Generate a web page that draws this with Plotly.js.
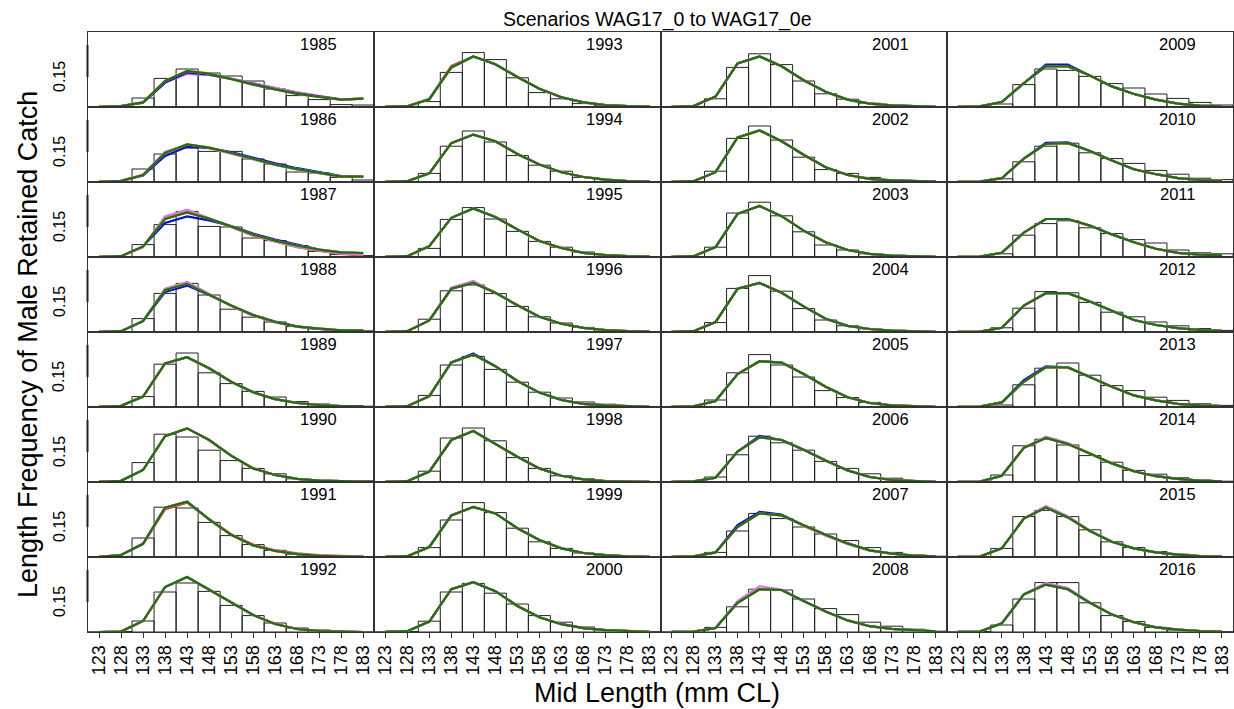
<!DOCTYPE html>
<html>
<head>
<meta charset="utf-8">
<script src="https://cdn.plot.ly/plotly-3.0.1.min.js"></script>
<style>html,body{margin:0;padding:0;background:#fff;}#chart{width:1234px;height:709px;}</style>
</head>
<body>
<div id="chart"></div>
<script>
// ---- data ----
const years = [1985,1986,1987,1988,1989,1990,1991,1992,1993,1994,1995,1996,1997,1998,1999,2000,
               2001,2002,2003,2004,2005,2006,2007,2008,2009,2010,2011,2012,2013,2014,2015,2016];
const midLength = [123,128,133,138,143,148,153,158,163,168,173,178,183];
const tickLabels = ["123","128","133","138","143","148","153","158","163","168","173","178","183"];

// observed proportions (bars), one row per year
const observed = [
 [0,0.002,0.045,0.143,0.19,0.17,0.155,0.13,0.09,0.057,0.037,0.012,0.01],
 [0,0.003,0.065,0.14,0.17,0.153,0.153,0.115,0.09,0.05,0.045,0.023,0.01],
 [0,0.002,0.062,0.162,0.228,0.153,0.15,0.095,0.082,0.057,0.028,0.012,0.007],
 [0,0.002,0.067,0.193,0.243,0.185,0.114,0.074,0.05,0.027,0.016,0.008,0.006],
 [0,0.002,0.052,0.214,0.27,0.171,0.117,0.078,0.05,0.027,0.015,0.006,0.004],
 [0,0.002,0.097,0.239,0.225,0.159,0.107,0.068,0.041,0.016,0.008,0.004,0.006],
 [0,0.003,0.095,0.249,0.245,0.173,0.107,0.062,0.033,0.014,0.005,0.002,0],
 [0,0.002,0.055,0.2,0.245,0.203,0.133,0.082,0.045,0.02,0.01,0,0],
 [0,0.003,0.027,0.173,0.272,0.237,0.146,0.072,0.041,0.017,0.006,0.002,0.001],
 [0,0.002,0.043,0.179,0.255,0.2,0.132,0.084,0.054,0.023,0.012,0.004,0.002],
 [0,0.002,0.043,0.188,0.247,0.19,0.128,0.078,0.049,0.025,0.012,0.004,0.001],
 [0,0.002,0.064,0.206,0.235,0.192,0.128,0.076,0.045,0.023,0.012,0.004,0.002],
 [0,0.002,0.058,0.21,0.253,0.188,0.124,0.074,0.045,0.025,0.014,0.005,0.002],
 [0,0.002,0.054,0.22,0.27,0.206,0.122,0.068,0.031,0.016,0.006,0.002,0.001],
 [0,0.002,0.047,0.185,0.272,0.222,0.144,0.076,0.043,0.02,0.008,0.003,0.001],
 [0,0.002,0.054,0.2,0.243,0.194,0.14,0.082,0.049,0.025,0.012,0.005,0.001],
 [0,0.003,0.041,0.198,0.266,0.212,0.13,0.066,0.039,0.019,0.008,0.003,0.001],
 [0,0.002,0.054,0.218,0.28,0.21,0.124,0.062,0.043,0.023,0.012,0.004,0.002],
 [0,0.002,0.049,0.22,0.274,0.206,0.126,0.06,0.035,0.016,0.008,0.003,0.001],
 [0,0.002,0.047,0.218,0.282,0.204,0.117,0.06,0.031,0.016,0.006,0.002,0.001],
 [0,0.002,0.035,0.171,0.262,0.21,0.15,0.082,0.047,0.023,0.01,0.004,0.001],
 [0,0.002,0.025,0.136,0.229,0.196,0.159,0.103,0.068,0.041,0.019,0.006,0.002],
 [0,0.002,0.023,0.13,0.218,0.192,0.15,0.115,0.082,0.047,0.023,0.01,0.004],
 [0,0.002,0.023,0.126,0.214,0.21,0.165,0.117,0.087,0.049,0.029,0.014,0.004],
 [0,0.002,0.015,0.112,0.19,0.183,0.153,0.117,0.095,0.065,0.043,0.023,0.01],
 [0,0.002,0.016,0.101,0.179,0.194,0.146,0.117,0.093,0.058,0.039,0.019,0.012],
 [0,0.002,0.016,0.109,0.167,0.181,0.146,0.117,0.087,0.07,0.035,0.021,0.016],
 [0,0.002,0.021,0.119,0.202,0.196,0.148,0.099,0.076,0.05,0.031,0.017,0.008],
 [0,0.002,0.01,0.111,0.194,0.22,0.159,0.107,0.082,0.049,0.033,0.016,0.008],
 [0,0.002,0.035,0.181,0.214,0.185,0.132,0.099,0.058,0.039,0.021,0.01,0.004],
 [0,0.002,0.043,0.202,0.233,0.202,0.136,0.076,0.047,0.027,0.014,0.006,0.002],
 [0,0.002,0.035,0.165,0.247,0.247,0.146,0.082,0.052,0.023,0.01,0.004,0.001]
];

// fitted proportions, scenario WAG17_0e (green, drawn on top)
const fitGreen = [
 [0.001,0.005,0.023,0.13,0.18,0.167,0.14,0.112,0.088,0.066,0.05,0.037,0.042],
 [0.001,0.006,0.035,0.145,0.188,0.172,0.145,0.115,0.087,0.064,0.046,0.027,0.027],
 [0.001,0.004,0.053,0.19,0.223,0.192,0.153,0.112,0.082,0.057,0.037,0.023,0.02],
 [0.001,0.004,0.054,0.21,0.241,0.187,0.132,0.084,0.05,0.027,0.016,0.008,0.008],
 [0.001,0.006,0.052,0.218,0.249,0.194,0.126,0.074,0.039,0.02,0.01,0.005,0.004],
 [0.001,0.006,0.06,0.229,0.268,0.21,0.132,0.068,0.035,0.016,0.007,0.003,0.002],
 [0.001,0.01,0.066,0.247,0.276,0.188,0.111,0.058,0.03,0.014,0.006,0.002,0.001],
 [0,0.002,0.055,0.225,0.275,0.212,0.145,0.085,0.04,0.015,0.005,0.001,0],
 [0.001,0.004,0.039,0.198,0.253,0.214,0.15,0.091,0.049,0.023,0.01,0.004,0.002],
 [0.001,0.004,0.043,0.194,0.237,0.204,0.14,0.087,0.049,0.025,0.012,0.005,0.002],
 [0.001,0.004,0.054,0.196,0.243,0.2,0.138,0.08,0.045,0.021,0.01,0.004,0.002],
 [0.001,0.004,0.058,0.216,0.245,0.196,0.134,0.076,0.041,0.021,0.01,0.004,0.002],
 [0.001,0.004,0.054,0.223,0.262,0.204,0.13,0.072,0.035,0.016,0.008,0.003,0.001],
 [0.001,0.004,0.052,0.21,0.255,0.19,0.126,0.068,0.031,0.013,0.005,0.002,0.001],
 [0.001,0.004,0.05,0.208,0.25,0.218,0.144,0.085,0.043,0.02,0.009,0.003,0.001],
 [0.001,0.004,0.052,0.214,0.249,0.204,0.13,0.074,0.039,0.019,0.009,0.004,0.001],
 [0.001,0.005,0.052,0.218,0.253,0.204,0.134,0.076,0.037,0.017,0.008,0.003,0.001],
 [0.001,0.004,0.049,0.223,0.258,0.204,0.136,0.074,0.035,0.016,0.008,0.004,0.002],
 [0.001,0.004,0.05,0.216,0.255,0.204,0.132,0.074,0.035,0.016,0.007,0.003,0.001],
 [0.001,0.004,0.05,0.216,0.245,0.196,0.128,0.066,0.031,0.015,0.007,0.003,0.001],
 [0.001,0.003,0.03,0.165,0.229,0.222,0.165,0.101,0.049,0.02,0.008,0.003,0.001],
 [0.001,0.003,0.021,0.152,0.223,0.21,0.161,0.107,0.058,0.025,0.01,0.004,0.001],
 [0.001,0.003,0.023,0.15,0.218,0.208,0.159,0.111,0.068,0.033,0.017,0.007,0.003],
 [0.001,0.002,0.02,0.146,0.214,0.21,0.155,0.103,0.058,0.029,0.016,0.008,0.003],
 [0.001,0.003,0.025,0.12,0.203,0.203,0.157,0.103,0.065,0.037,0.017,0.007,0.003],
 [0.001,0.002,0.019,0.117,0.19,0.194,0.155,0.107,0.064,0.039,0.019,0.01,0.006],
 [0.001,0.002,0.021,0.122,0.19,0.19,0.157,0.113,0.074,0.041,0.021,0.012,0.008],
 [0.001,0.002,0.021,0.132,0.194,0.194,0.153,0.105,0.06,0.035,0.019,0.01,0.006],
 [0.001,0.002,0.023,0.126,0.198,0.198,0.15,0.101,0.058,0.033,0.016,0.008,0.005],
 [0.001,0.002,0.031,0.171,0.22,0.19,0.142,0.093,0.054,0.029,0.016,0.007,0.003],
 [0.001,0.002,0.043,0.192,0.247,0.198,0.13,0.076,0.043,0.023,0.012,0.005,0.002],
 [0.001,0.002,0.043,0.188,0.237,0.214,0.146,0.087,0.049,0.023,0.012,0.005,0.002]
];

// other scenarios: only the years where they visibly differ from the green fit
const fitRed = {
 1985: [0.001,0.005,0.022,0.124,0.167,0.16,0.141,0.117,0.094,0.072,0.054,0.038,0.042],
 1987: [0.001,0.004,0.05,0.2,0.233,0.193,0.15,0.106,0.076,0.049,0.03,0.015,0.007],
 1988: [0.001,0.004,0.055,0.213,0.246,0.19,0.131,0.083,0.049,0.027,0.015,0.008,0.007],
 1991: [0.001,0.01,0.064,0.238,0.272,0.19,0.114,0.062,0.034,0.018,0.009,0.004,0.002],
 1993: [0.001,0.004,0.041,0.205,0.253,0.214,0.15,0.091,0.049,0.023,0.01,0.004,0.002]
};
const fitPink = {
 1985: [0.001,0.005,0.022,0.122,0.165,0.16,0.142,0.118,0.095,0.073,0.055,0.038,0.042],
 1986: [0.001,0.006,0.037,0.152,0.186,0.168,0.142,0.112,0.085,0.062,0.044,0.027,0.027],
 1987: [0.001,0.004,0.05,0.203,0.237,0.195,0.153,0.108,0.078,0.05,0.032,0.017,0.012],
 1988: [0.001,0.004,0.056,0.216,0.25,0.19,0.13,0.082,0.048,0.026,0.015,0.008,0.008],
 1996: [0.001,0.004,0.058,0.222,0.255,0.196,0.134,0.076,0.041,0.021,0.01,0.004,0.002],
 2007: [0.001,0.003,0.023,0.158,0.222,0.208,0.155,0.106,0.064,0.033,0.017,0.007,0.003],
 2008: [0.001,0.002,0.02,0.155,0.229,0.212,0.155,0.103,0.058,0.029,0.016,0.008,0.003],
 2014: [0.001,0.002,0.031,0.171,0.227,0.195,0.142,0.093,0.054,0.029,0.016,0.007,0.003],
 2015: [0.001,0.002,0.043,0.192,0.255,0.204,0.133,0.076,0.043,0.023,0.012,0.005,0.002],
 2016: [0.001,0.002,0.043,0.188,0.245,0.22,0.148,0.09,0.049,0.023,0.012,0.005,0.002]
};
const fitBlue = {
 1985: [0.001,0.005,0.022,0.122,0.172,0.163,0.14,0.114,0.09,0.068,0.051,0.037,0.042],
 1986: [0.001,0.005,0.032,0.13,0.176,0.17,0.15,0.122,0.093,0.069,0.05,0.03,0.027],
 1987: [0.001,0.004,0.053,0.17,0.203,0.183,0.155,0.117,0.087,0.062,0.037,0.023,0.02],
 1988: [0.001,0.004,0.054,0.2,0.232,0.185,0.133,0.086,0.052,0.028,0.016,0.008,0.008],
 1997: [0.001,0.004,0.054,0.223,0.268,0.204,0.13,0.072,0.035,0.016,0.008,0.003,0.001],
 2006: [0.001,0.003,0.021,0.152,0.23,0.21,0.161,0.107,0.058,0.025,0.01,0.004,0.001],
 2007: [0.001,0.003,0.023,0.16,0.226,0.212,0.159,0.111,0.068,0.033,0.017,0.007,0.003],
 2009: [0.001,0.003,0.025,0.12,0.212,0.212,0.157,0.103,0.065,0.037,0.017,0.007,0.003],
 2010: [0.001,0.002,0.019,0.117,0.196,0.198,0.155,0.107,0.064,0.039,0.019,0.01,0.006],
 2013: [0.001,0.002,0.023,0.135,0.203,0.198,0.15,0.101,0.058,0.033,0.016,0.008,0.005]
};

const scenarioStyles = [
  {name: "WAG17_0",  src: fitRed,  color: "#e8403a"},
  {name: "WAG17_0a", src: fitPink, color: "#d878e0"},
  {name: "WAG17_0b", src: null,    color: "#f0a040"},
  {name: "WAG17_0c", src: fitBlue, color: "#1010c0"},
  {name: "WAG17_0d", src: null,    color: "#d8d820"},
  {name: "WAG17_0e", src: "green", color: "#24691f"}
];

// ---- layout geometry (pixels) ----
const W = 1234, H = 709;
const left = 88, colW = 286.25, top0 = 32, rowH = 75;
const nRows = 8;
const yMax = 0.375;
const xRange = [120.5, 185.5];
const FONT = "Liberation Sans, Arial, sans-serif";

const traces = [];
const layout = {
  width: W, height: H,
  margin: {l: 0, r: 0, t: 0, b: 0},
  paper_bgcolor: "#fff", plot_bgcolor: "#fff",
  showlegend: false,
  font: {family: FONT, color: "#000"},
  annotations: [], shapes: []
};

years.forEach((yr, i) => {
  const col = Math.floor(i / nRows), row = i % nRows;
  const sfx = i === 0 ? "" : String(i + 1);
  const xa = "x" + sfx, ya = "y" + sfx;
  const x0 = left + col * colW, x1 = x0 + colW;
  const yt = top0 + row * rowH, yb = yt + rowH;
  const bottom = row === nRows - 1;

  layout["xaxis" + sfx] = {
    domain: [x0 / W, x1 / W], anchor: ya, range: xRange,
    showgrid: false, zeroline: false, fixedrange: true,
    showline: true, mirror: true, linecolor: "#333", linewidth: 1,
    tickmode: "array", tickvals: midLength, ticktext: tickLabels,
    showticklabels: bottom, ticks: bottom ? "outside" : "", ticklen: 5, tickcolor: "#333",
    tickangle: -90, tickfont: {size: 18, family: FONT, color: "#000"}
  };
  layout["yaxis" + sfx] = {
    domain: [1 - yb / H, 1 - yt / H], anchor: xa, range: [0, yMax],
    showgrid: false, zeroline: false, fixedrange: true,
    showline: true, mirror: true, linecolor: "#333", linewidth: 1,
    showticklabels: false, ticks: ""
  };

  traces.push({
    type: "bar", x: midLength, y: observed[i], width: 5, xaxis: xa, yaxis: ya,
    marker: {color: "rgba(255,255,255,0)", line: {color: "#222", width: 1}},
    hoverinfo: "skip"
  });

  scenarioStyles.forEach(s => {
    let vals;
    if (s.src === "green") vals = fitGreen[i];
    else if (s.src && s.src[yr]) vals = s.src[yr];
    else vals = fitGreen[i];
    traces.push({
      type: "scatter", mode: "lines", x: midLength, y: vals, xaxis: xa, yaxis: ya,
      line: {color: s.color, width: 2.2}, name: s.name, hoverinfo: "skip"
    });
  });

  layout.annotations.push({
    text: String(yr), xref: xa + " domain", yref: ya + " domain",
    x: 1 - 56 / colW, y: 1 - 12 / rowH, xanchor: "center", yanchor: "middle",
    showarrow: false, font: {size: 16.5, family: FONT, color: "#000"}
  });

  if (col === 0) {
    layout.annotations.push({
      text: "0.15", xref: "paper", yref: ya, x: 59 / W, y: 0.15,
      xanchor: "center", yanchor: "middle", textangle: -90, showarrow: false,
      font: {size: 16, family: FONT, color: "#000"}
    });
    layout.shapes.push({
      type: "line", xref: "paper", yref: ya, x0: (left - 0.5) / W, x1: (left - 0.5) / W,
      y0: 0.15, y1: 0.31, line: {color: "#222", width: 2}
    });
  }
});

layout.annotations.push({
  text: "Scenarios WAG17_0 to WAG17_0e", xref: "paper", yref: "paper",
  x: 657 / W, y: 1 - 20 / H, xanchor: "center", yanchor: "middle", showarrow: false,
  font: {size: 19.5, family: FONT, color: "#000"}
});
layout.annotations.push({
  text: "Mid Length (mm CL)", xref: "paper", yref: "paper",
  x: 657 / W, y: 1 - 693 / H, xanchor: "center", yanchor: "middle", showarrow: false,
  font: {size: 27, family: FONT, color: "#000"}
});
layout.annotations.push({
  text: "Length Frequency of Male Retained Catch", xref: "paper", yref: "paper",
  x: 28 / W, y: 1 - 345 / H, xanchor: "center", yanchor: "middle", textangle: -90,
  showarrow: false, font: {size: 27, family: FONT, color: "#000"}
});

Plotly.newPlot("chart", traces, layout, {staticPlot: true, displayModeBar: false});
</script>
</body>
</html>
